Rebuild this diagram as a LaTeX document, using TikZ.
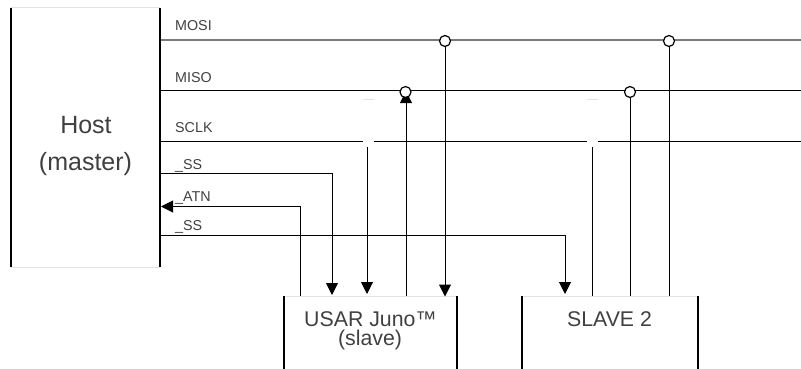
\documentclass[tikz,border=0pt]{standalone}
\usepackage{fontspec}
\setmainfont{Liberation Sans}
\usetikzlibrary{arrows.meta}
\definecolor{ink}{HTML}{404040}
\definecolor{graywire}{HTML}{7A7A7A}
\definecolor{faint}{HTML}{E2E2E2}
\tikzset{
  wire/.style={line width=1pt,black},
  thickgray/.style={line width=1.5pt,graywire},
  tip/.style={-{Triangle[length=12pt,width=12pt]}},
  side/.style={line width=1.5pt,black},
  edge/.style={line width=1pt,faint},
  sig/.style={font=\fontsize{14.3}{14.3}\selectfont,text=ink,anchor=base west,inner sep=0pt},
  title/.style={font=\fontsize{25}{25}\selectfont,text=ink,anchor=base,inner sep=0pt},
  subtitle/.style={font=\fontsize{21.3}{21.3}\selectfont,text=ink,anchor=base,inner sep=0pt},
  ring/.style={circle,draw=black,fill=white,line width=1.2pt,minimum size=11pt,inner sep=0pt},
  block/.style={inner sep=0pt,outer sep=0pt,rectangle}
}
\begin{document}
\begin{tikzpicture}[x=1pt,y=-1pt]
\useasboundingbox (0,0) rectangle (801,369);
% boxes
\node[block,minimum width=149pt,minimum height=259pt] (host) at (85.5,137.5) {};
\node[block,minimum width=173pt,minimum height=73pt] (juno) at (370.5,332.5) {};
\node[block,minimum width=176pt,minimum height=73pt] (slave) at (610,332.5) {};
\foreach \b in {host,juno,slave}{
  \draw[edge] (\b.north west) -- (\b.north east);
  \draw[side] (\b.north west) -- (\b.south west);
  \draw[side] (\b.north east) -- (\b.south east);
}
\draw[edge] (host.south west) -- (host.south east);
% texts
\node[title] (hosttext) at (86,133) {Host};
\node[title] (hostsub) at (85.5,170) {(master)};
\node[subtitle,text depth=0pt] (junotext) at (370.5,326.7) {USAR Juno™};
\node[subtitle,text height=14pt] (junosub) at (370,345) {(slave)};
\node[subtitle] (slavetext) at (609.5,326.7) {SLAVE 2};
\node[sig] (lmosi) at (175,31) {MOSI};
\node[sig] (lmiso) at (175,82.5) {MISO};
\node[sig] (lsclk) at (175,132) {SCLK};
\node[sig] (lss) at (175,169.5) {\_SS};
\node[sig] (latn) at (175,201.5) {\_ATN};
\node[sig] (lsss) at (175,230.5) {\_SS};
% named points
\coordinate (mosiL) at (161,40);
\coordinate (mosiR) at (801,40);
\coordinate (misoL) at (161,90.5);
\coordinate (misoR) at (801,90.5);
\coordinate (sclkL) at (161,141);
\coordinate (sclkR) at (801,141);
\coordinate (gapAl) at (363,141);
\coordinate (gapAr) at (374,141);
\coordinate (gapBl) at (587,141);
\coordinate (gapBr) at (598,141);
\coordinate (dashAl) at (363,99.5);
\coordinate (dashAr) at (374,99.5);
\coordinate (dashBl) at (587,99.5);
\coordinate (dashBr) at (598,99.5);
\coordinate (sclkA) at (367,147);
\coordinate (sclkB) at (592,147);
\coordinate (ssL) at (161,173.5);
\coordinate (ssC) at (332,173.5);
\coordinate (atnL) at (161,206.5);
\coordinate (atnC) at (300.5,206.5);
\coordinate (sssL) at (161,235.5);
\coordinate (sssC) at (565,235.5);
\coordinate (misoIn) at (406,91);
\coordinate (misoOut) at (406,296);
% wires
\draw[thickgray] (mosiL) -- (mosiR);
\draw[wire] (misoL) -- (misoR);
\draw[wire] (sclkL) -- (gapAl);
\draw[wire] (gapAr) -- (gapBl);
\draw[wire] (gapBr) -- (sclkR);
\draw[edge] (dashAl) -- (dashAr);
\draw[edge] (dashBl) -- (dashBr);
\draw[wire,tip] (misoOut) -- (misoIn);
% rings
\node[ring] (ra) at (445,41) {};
\node[ring] (rb) at (669,41) {};
\node[ring] (rc) at (405.5,92) {};
\node[ring] (rd) at (630,92) {};
% stubs and arrows
\draw[wire,tip] (ra.south) -- ([yshift=-0.5pt]ra |- juno.north);
\draw[wire] (rb.south) -- (rb |- slave.north);
\draw[wire] (rd.south) -- (rd |- slave.north);
\draw[wire] (sclkB) -- (sclkB |- slave.north);
\draw[wire,tip] (sclkA) -- ([yshift=2pt]sclkA |- juno.north);
\draw[wire,tip] (ssL) -- (ssC) -- ([yshift=1pt]ssC |- juno.north);
\draw[wire,tip] (atnC |- juno.north) -- (atnC) -- (atnL);
\draw[wire,tip] (sssL) -- (sssC) -- ([yshift=2pt]sssC |- slave.north);
\end{tikzpicture}
\end{document}
